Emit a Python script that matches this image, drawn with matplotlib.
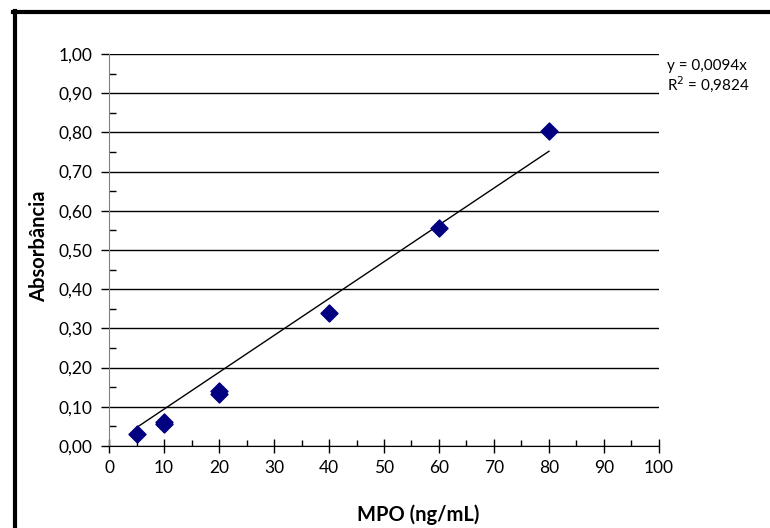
import matplotlib.pyplot as plt
from matplotlib.lines import Line2D
from matplotlib.ticker import MultipleLocator, FuncFormatter

# MPO standard curve data
mpo = [5, 10, 10, 20, 20, 40, 60, 80]
absorb = [0.031, 0.055, 0.062, 0.133, 0.140, 0.339, 0.556, 0.803]
slope = 0.0094
r2 = 0.9824
fit_x = [5, 80]

plt.rcParams['font.family'] = ['Lato', 'DejaVu Sans']

fig = plt.figure(figsize=(7.7, 5.28), dpi=100)
ax = fig.add_axes([0.1416, 0.1553, 0.7142, 0.7424])

ax.set_axisbelow(True)
ax.grid(axis='y', which='major', color='black', linewidth=1)
ax.plot(fit_x, [slope * x for x in fit_x], color='black', linewidth=1)
ax.scatter(mpo, absorb, marker='D', s=75, color='#000080', zorder=3)

ax.set_xlim(0, 100)
ax.set_ylim(0, 1.0)
ax.xaxis.set_major_locator(MultipleLocator(10))
ax.xaxis.set_minor_locator(MultipleLocator(5))
ax.yaxis.set_major_locator(MultipleLocator(0.1))
ax.yaxis.set_minor_locator(MultipleLocator(0.05))
ax.yaxis.set_major_formatter(FuncFormatter(lambda v, p: f'{v:.2f}'.replace('.', ',')))

ax.tick_params(axis='y', which='major', direction='out', length=6, width=1,
               labelsize=12.5, pad=6)
ax.tick_params(axis='y', which='minor', direction='in', length=5, width=1)
ax.tick_params(axis='x', which='major', direction='inout', length=10, width=1,
               labelsize=12.5, pad=5)
ax.tick_params(axis='x', which='minor', direction='in', length=4, width=1)

ax.spines['top'].set_visible(False)
ax.spines['right'].set_visible(False)
ax.spines['left'].set_color('#808080')
ax.spines['bottom'].set_color('black')

ax.set_xlabel('MPO (ng/mL)', fontsize=14.5, fontweight='bold')
ax.set_ylabel('Absorbância', fontsize=14.5, fontweight='bold')
# label positions in axes fraction, as in the original (x label sits right of centre)
ax.xaxis.set_label_coords(0.562, -0.15)
ax.yaxis.set_label_coords(-0.109, 0.51)

fig.text(0.866, 0.868, f'y = {slope:.4f}x'.replace('.', ','), fontsize=11)
fig.text(0.866, 0.830, f'R$^2$ = {r2:.4f}'.replace('.', ','), fontsize=11)

# outer chart frame (only top and left visible in crop)
fig.add_artist(Line2D([0.0175, 1.0], [0.978, 0.978], color='black', linewidth=3))
fig.add_artist(Line2D([0.019, 0.019], [0.0, 0.98], color='black', linewidth=3))

fig.savefig('out.png', dpi=100)
